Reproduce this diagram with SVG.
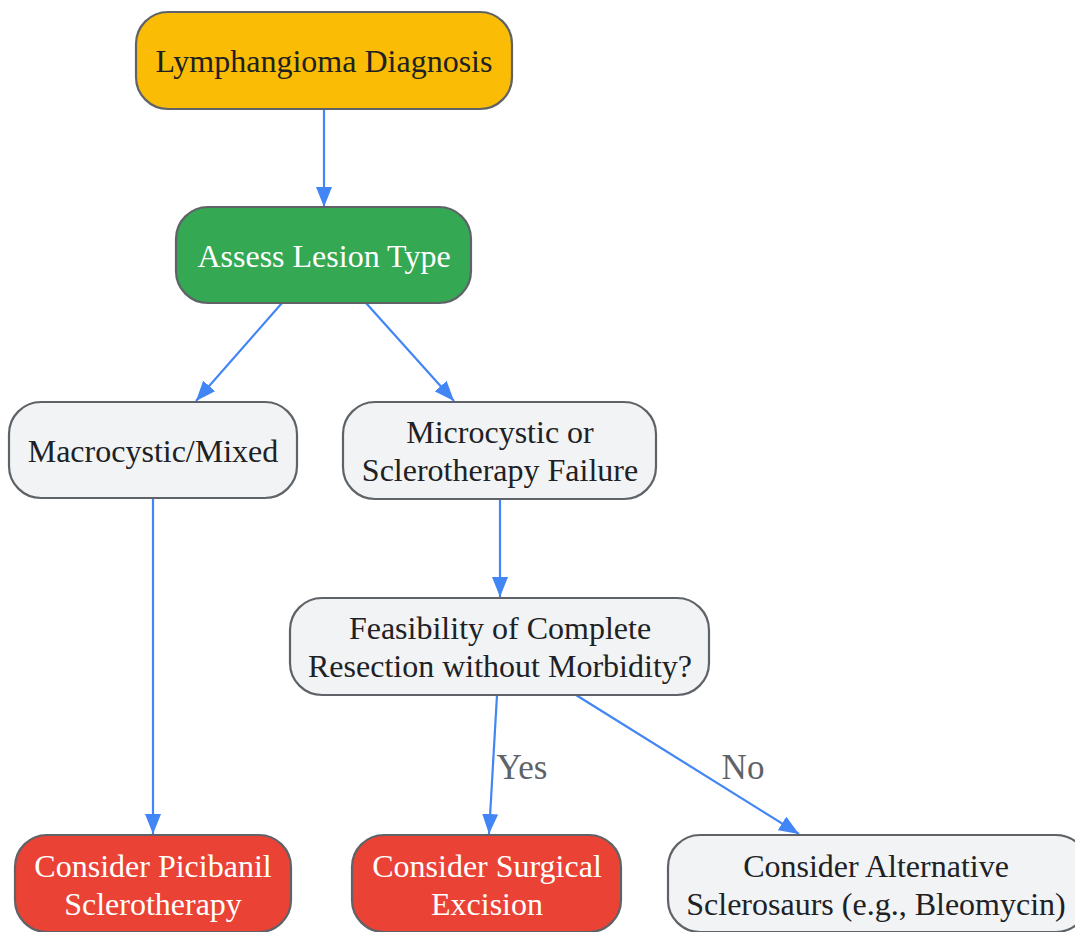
<svg xmlns="http://www.w3.org/2000/svg" width="1075" height="932" viewBox="0 0 1075 932">
<defs>
<marker id="ah" viewBox="0 0 20 16" refX="20" refY="8" markerWidth="20" markerHeight="16" markerUnits="userSpaceOnUse" orient="auto">
<path d="M0,0 L20,8 L0,16 z" fill="#4285F4"/>
</marker>
<style>
.n rect{stroke:#5f6368;stroke-width:2.2}
.t{font-family:"Liberation Serif",serif;font-size:32px;text-anchor:middle;dominant-baseline:central;fill:#202124}
.w{fill:#ffffff}
.e{fill:none;stroke:#4285F4;stroke-width:2.2;marker-end:url(#ah)}
.l{font-family:"Liberation Serif",serif;font-size:35px;fill:#5f6368;text-anchor:middle;dominant-baseline:central}
</style>
</defs>
<rect width="1075" height="932" fill="#ffffff"/>
<g id="connectors">
<path class="e" d="M324,109 L324,207"/>
<path class="e" d="M282,303 L196,401"/>
<path class="e" d="M366,303 L454,401"/>
<path class="e" d="M153,498 L153,834"/>
<path class="e" d="M500,499 L500,597"/>
<path class="e" d="M497,695 L489,834"/>
<path class="e" d="M576,695 L799,834"/>
<text class="l" x="522" y="767">Yes</text>
<text class="l" x="743" y="767">No</text>
</g>
<g id="n1" class="n"><rect x="136" y="12" width="376" height="97" rx="32" fill="#FBBC05"/><text class="t" x="324" y="61">Lymphangioma Diagnosis</text></g>
<g id="n2" class="n"><rect x="176" y="207" width="295" height="96" rx="32" fill="#34A853"/><text class="t w" x="324" y="256">Assess Lesion Type</text></g>
<g id="n3" class="n"><rect x="9" y="402" width="288" height="96" rx="32" fill="#F1F3F4"/><text class="t" x="153" y="451">Macrocystic/Mixed</text></g>
<g id="n4" class="n"><rect x="343" y="402" width="313" height="97" rx="32" fill="#F1F3F4"/><text class="t" x="500" y="432">Microcystic or</text><text class="t" x="500" y="470">Sclerotherapy Failure</text></g>
<g id="n5" class="n"><rect x="290" y="598" width="419" height="97" rx="32" fill="#F1F3F4"/><text class="t" x="500" y="628">Feasibility of Complete</text><text class="t" x="500" y="666">Resection without Morbidity?</text></g>
<g id="n6" class="n"><rect x="15" y="835" width="276" height="97" rx="32" fill="#EA4335"/><text class="t w" x="153" y="866">Consider Picibanil</text><text class="t w" x="153" y="904">Sclerotherapy</text></g>
<g id="n7" class="n"><rect x="352" y="835" width="269" height="97" rx="32" fill="#EA4335"/><text class="t w" x="487" y="866">Consider Surgical</text><text class="t w" x="487" y="904">Excision</text></g>
<g id="n8" class="n"><rect x="668" y="835" width="420" height="97" rx="32" fill="#F1F3F4"/><text class="t" x="876" y="866">Consider Alternative</text><text class="t" x="876" y="904">Sclerosaurs (e.g., Bleomycin)</text></g>
</svg>
